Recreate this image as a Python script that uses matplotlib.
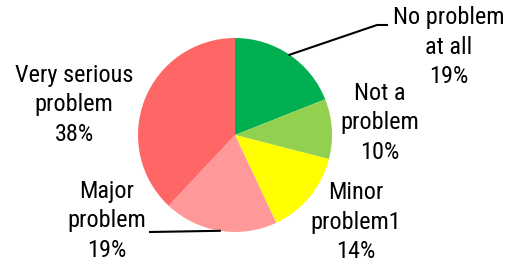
import numpy as np
import matplotlib.pyplot as plt

labels = ['No problem\nat all', 'Not a\nproblem', 'Minor\nproblem1', 'Major\nproblem', 'Very serious\nproblem']
shares = [19, 10, 14, 19, 38]
colors = ['#00B050', '#92D050', '#FFFF00', '#FF9999', '#FF6666']

# label centres in pixel space (x, y from top)
label_pos = [(449, 47), (380, 123), (356, 222), (107, 221), (74, 105)]
leader = {0: [(377, 25), (387, 25)], 3: [(150, 232)]}

W, H = 519, 267
plt.rcParams['font.family'] = ['Roboto Condensed', 'Liberation Sans', 'DejaVu Sans']

fig = plt.figure(figsize=(W / 100, H / 100), dpi=100)
ax = fig.add_axes([0, 0, 1, 1])

cx, cy, r = 235, H - 135, 97
wedges, _ = ax.pie(shares, colors=colors, startangle=90, counterclock=False,
                   center=(cx, cy), radius=r, frame=True)
ax.set_xlim(0, W)
ax.set_ylim(0, H)
ax.set_aspect('equal')
ax.axis('off')

cum = np.cumsum([0] + shares[:-1])
for i, (lab, s) in enumerate(zip(labels, shares)):
    x, y = label_pos[i]
    ax.text(x, H - y, '%s\n%d%%' % (lab, s), ha='center', va='center',
            fontsize=17.5, linespacing=1.35)
    if i in leader:
        ang = np.deg2rad(90 - (cum[i] + s / 2) * 3.6)
        px = [cx + r * np.cos(ang)] + [p[0] for p in leader[i]]
        py = [cy + r * np.sin(ang)] + [H - p[1] for p in leader[i]]
        ax.plot(px, py, color='black', lw=1.5)

fig.savefig('out.png', dpi=100)
